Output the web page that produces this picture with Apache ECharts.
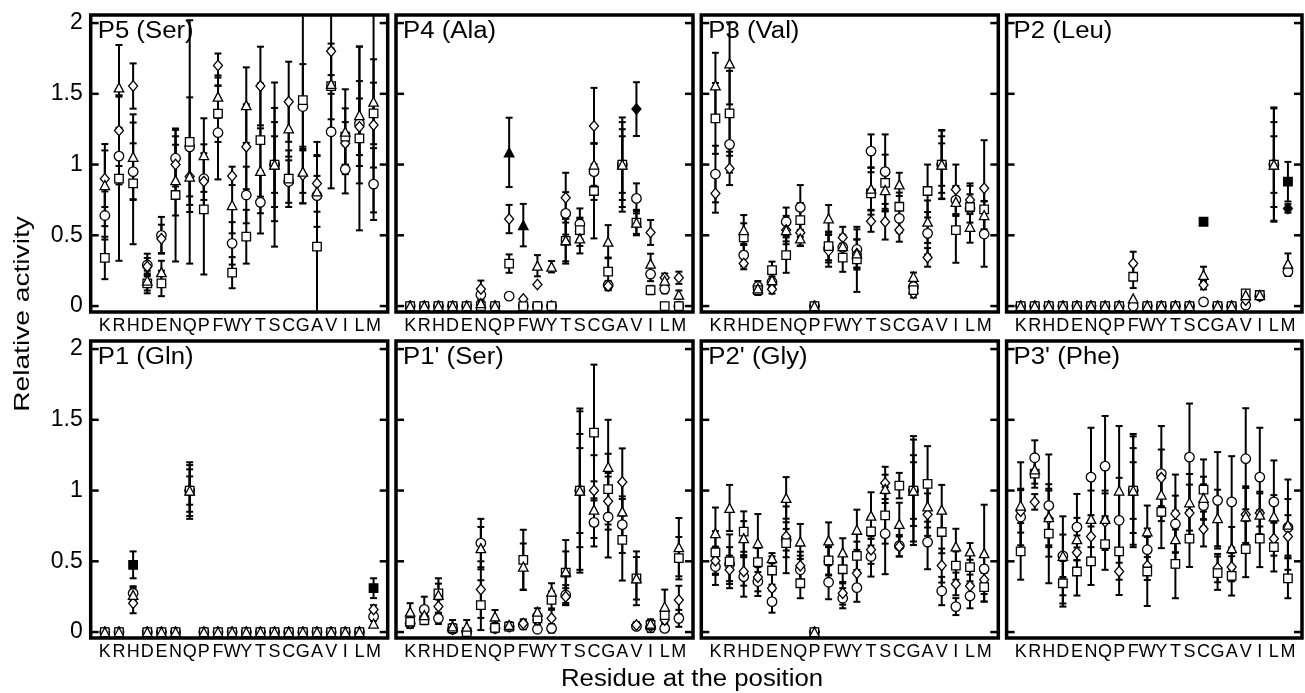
<!DOCTYPE html>
<html>
<head>
<meta charset="utf-8">
<script src="https://cdn.jsdelivr.net/npm/echarts/dist/echarts.min.js"></script>
<style>
  body { margin: 0; background: #fff; }
  #main { width: 1305px; height: 693px; }
</style>
</head>
<body>
<div id="main"></div>
<script>
// residues on the x axis of every panel
const residues = ['K','R','H','D','E','N','Q','P','F','W','Y','T','S','C','G','A','V','I','L','M'];
const panels = ['P5 (Ser)', 'P4 (Ala)', 'P3 (Val)', 'P2 (Leu)', 'P1 (Gln)', "P1' (Ser)", "P2' (Gly)", "P3' (Phe)"];
const yTicks = [0, 0.5, 1, 1.5, 2];

// one row per panel, 20 residues each
const circle = [
  [.64,1.06,.95,.29,.50,1.045,1.125,.90,1.225,.443,.785,.733,1,.88,1.41,.78,1.232,.966,1.29,.862],
  [0,0,0,0,0,.08,0,.07,0,0,0,.655,.58,.95,.148,1,.761,.226,.12,0],
  [.933,1.143,.36,.137,.17,.596,.697,0,.408,.415,.40,1.095,.95,.62,.137,.514,1,.749,.69,.509],
  [0,0,0,0,0,0,0,0,0,0,0,0,0,.03,0,0,.007,.07,1,.243],
  [0,0,.274,0,0,0,1,0,0,0,0,0,0,0,0,0,0,0,0,.11],
  [.061,.16,.097,.02,0,.629,.026,.038,.05,.02,.026,.262,1,.775,.813,.759,.04,.03,.026,.097],
  [.463,.48,.392,.357,.215,.652,.44,0,.352,.239,.314,.534,.695,.61,1,.636,.29,.18,.255,.447],
  [.813,1.232,.894,.539,.742,1.095,1.173,.79,1,.582,1.12,.764,1.236,.894,.931,.92,1.225,1.095,.92,.74]
];
const circleErr = [
  [.17,.2,.2,.08,.13,.2,.35,.15,.33,.15,.2,.22,.58,.15,.3,.38,.4,.17,.3,.254],
  [0,0,0,0,0,.04,0,0,0,0,0,.15,.11,.2,.03,.333,.106,.05,.03,0],
  [.2,.2,.08,.04,.04,.1,.158,0,.1,.08,.142,.118,.263,.1,.03,.15,.244,.1,.1,.231],
  [0,0,0,0,0,0,0,0,0,0,0,0,0,0,0,0,.01,.01,.404,.03],
  [0,0,.05,0,0,0,.18,0,0,0,0,0,0,0,0,0,0,0,0,.03],
  [.03,.09,.04,.02,0,.171,.02,.02,.03,.02,.03,.07,.3,.17,.286,.2,.02,.03,.02,.06],
  [.13,.12,.142,.102,.078,.236,.1,0,.12,.071,.1,.142,.286,.076,.36,.192,.1,.06,.087,.1],
  [.2,.123,.361,.279,.234,.349,.354,.3,.4,.15,.336,.2,.379,.15,.341,.323,.357,.349,.293,.2]
];
const square = [
  [.34,.90,.867,.16,.16,.785,1.16,.683,1.36,.236,.49,1.173,1,.90,1.456,.42,1.555,1.197,1.185,1.362],
  [0,0,0,0,0,0,0,.30,0,0,0,.46,.537,.813,.243,1,.59,.113,0,0],
  [1.326,1.362,.485,.113,.254,.36,.608,0,.424,.342,.33,.796,.87,.702,.113,.813,1,.537,.70,.683],
  [0,0,0,0,0,0,0,0,.207,0,0,0,0,.596,0,0,.09,.078,1,.879],
  [0,0,.475,0,0,0,1,0,0,0,0,0,0,0,0,0,0,0,0,.31],
  [.073,.085,.274,.026,0,.19,.03,.038,.51,.097,.227,.42,1,1.41,1.01,.652,.38,.05,.12,.522],
  [.563,.50,.71,.494,.435,.629,.345,0,.506,.444,.539,.712,.825,1.035,1,1.047,.707,.47,.459,.317],
  [.57,1.12,.695,.345,.428,.499,.622,.57,1,.428,.849,.482,.66,1.007,.416,.397,.586,.66,.60,.38]
];
const squareErr = [
  [.15,.58,.43,.07,.09,.47,.86,.46,.2,.11,.19,.4,.3,.2,.73,.5,.3,.2,.65,.7],
  [0,0,0,0,0,0,0,.065,0,0,0,.16,.08,.335,.1,.2,.09,.03,0,0],
  [.25,.3,.1,.035,.06,.125,.12,0,.1,.1,.23,.15,.2,.1,.03,.187,.2,.231,.167,.15],
  [0,0,0,0,0,0,0,0,.08,0,0,0,0,0,0,0,.02,.01,.397,.14],
  [0,0,.095,0,0,0,.15,0,0,0,0,0,0,0,0,0,0,0,0,.07],
  [.04,.03,.106,.03,0,.176,.02,0,.213,.04,.06,.15,.58,.48,.25,.288,.19,.03,.05,.15],
  [.15,.19,.143,.1,.1,.1,.106,0,.1,.1,.1,.1,.2,.09,.385,.267,.15,.1,.1,.102],
  [.2,.1,.35,.165,.17,.166,.182,.2,.383,.244,.256,.243,.2,.213,.118,.139,.198,.201,.172,.141]
];
const diamond = [
  [.90,1.24,1.555,.28,.475,1.0,.915,.88,1.70,.92,1.126,1.555,1,1.444,.926,.867,1.80,1.15,1.267,1.279],
  [0,0,0,0,0,.12,0,.615,.05,.153,0,.766,.525,1.272,.141,1,1.392,.52,.2,.2],
  [.796,.973,.30,.113,.118,.537,.518,0,.39,.485,.37,.60,.596,.537,.09,.344,1,.824,.75,.832],
  [0,0,0,0,0,0,0,0,.30,0,0,0,0,.148,0,0,.042,.07,1,.69],
  [0,0,.203,0,0,0,1,0,0,0,0,0,0,0,0,0,0,0,0,.16],
  [.061,.097,.18,.02,.01,.30,.026,.038,.06,.085,.097,.25,1,1.0,.924,1.06,.05,.04,.085,.227],
  [.504,.44,.428,.388,.31,.676,.468,0,.50,.274,.416,.582,1.054,.605,1,.83,.47,.34,.326,.369],
  [.853,.92,.80,.352,.563,.676,.78,.428,1,.468,1.09,.837,.842,.728,.452,.459,.83,.842,.66,.676]
];
const diamondErr = [
  [.2,.25,.16,.06,.1,.2,.25,.2,.085,.065,.3,.278,.4,.283,.2,.2,.3,.15,.2,.3],
  [0,0,0,0,0,.06,0,.1,0,0,0,.176,.1,.27,.03,.25,.19,.088,.03,.043],
  [.136,.118,.04,.03,.03,.1,.09,0,.112,.075,.1,.075,.126,.082,.03,.066,.24,.176,.1,.34],
  [0,0,0,0,0,0,0,0,.084,0,0,0,0,.03,0,0,.02,.01,.2,.03],
  [0,0,.07,0,0,0,.2,0,0,0,0,0,0,0,0,0,0,0,0,.03],
  [.03,.03,.05,.02,0,.2,.02,0,.03,.04,.06,.06,.56,.25,.2,.238,.02,.02,.04,.1],
  [.1,.1,.1,.1,.1,.1,.1,0,.1,.08,.1,.1,.114,.07,.25,.15,.12,.08,.08,.1],
  [.15,.055,.2,.15,.12,.15,.2,.166,.3,.1,.2,.276,.2,.123,.1,.1,.2,.15,.12,.15]
];
const triangle = [
  [.855,1.545,1.055,.18,.24,.89,.915,1.067,1.48,.714,1.42,.956,1,1.256,.95,.81,1.57,1.232,1.35,1.444],
  [0,0,0,0,0,.02,0,1.086,.572,.285,.278,.466,.478,1.0,.455,1,.59,.30,.18,.08],
  [1.56,1.715,.537,.125,.184,.537,.478,0,.62,.424,.372,.83,.82,.86,.207,.596,1,.737,.56,.643],
  [0,0,0,0,0,0,0,0,.054,0,0,0,0,.22,0,0,.078,.078,1,.30],
  [0,0,.262,0,0,0,1,0,0,0,0,0,0,0,0,0,0,0,0,.06],
  [.144,.12,.262,.04,.038,.593,.11,.05,.463,.144,.286,.428,1,.865,1.168,.853,.38,.06,.18,.60],
  [.70,.877,.664,.629,.522,.948,.64,0,.648,.563,.723,.823,1.012,.764,1,.889,.865,.605,.57,.558],
  [.894,1.149,.813,.539,.657,.80,.80,1.0,1,.712,.972,.657,.917,.948,.806,.593,.818,.83,.818,.759]
];
const triangleErr = [
  [.29,.3,.3,.07,.08,.25,.2,.26,.15,.2,.267,.3,.2,.2,.15,.25,.25,.3,.483,.3],
  [0,0,0,0,0,.02,0,.245,.15,.075,.04,.15,.106,.15,.117,.3,.08,.07,.03,.03],
  [.23,.29,.106,.03,.05,.08,.054,0,.094,.08,.1,.15,.15,.082,.03,.15,.15,.1,.112,.1],
  [0,0,0,0,0,0,0,0,0,0,0,0,0,.058,0,0,.02,.01,.3,.072],
  [0,0,.05,0,0,0,.1,0,0,0,0,0,0,0,0,0,0,0,0,.02],
  [.06,.05,.08,.045,.047,.15,.046,.02,.163,.024,.059,.222,.4,.2,.332,.2,.15,.03,.12,.206],
  [.18,.163,.12,.205,.036,.147,.124,0,.127,.1,.142,.165,.1,.15,.2,.15,.175,.125,.059,.342],
  [.306,.1,.2,.15,.15,.2,.2,.456,.2,.182,.15,.2,.2,.15,.2,.15,.2,.15,.15,.319]
];
// solid (black) markers: [panel, series, residue index]
const filled = [[1,'triangle',7],[1,'triangle',8],[1,'diamond',16],[3,'square',13],[3,'square',19],[3,'diamond',19],[4,'square',2],[4,'square',19]];

const FONT = "'Liberation Sans', Arial, Helvetica, sans-serif";
const chart = echarts.init(document.getElementById('main'));

const markers = [
  { name: 'circle', symbol: 'circle', size: 9.5, vals: circle, errs: circleErr },
  { name: 'diamond', symbol: 'diamond', size: [9, 10.5], vals: diamond, errs: diamondErr },
  { name: 'square', symbol: 'rect', size: 8.5, vals: square, errs: squareErr },
  { name: 'triangle', symbol: 'triangle', size: [9.5, 9], vals: triangle, errs: triangleErr }
];

// vertical error bar with caps, cut at the panel frame
function renderErr(params, api) {
  const x = api.value(0), lo = api.value(1), hi = api.value(2);
  const cs = params.coordSys;
  const top = api.coord([x, hi]);
  const bot = api.coord([x, lo]);
  const yMin = cs.y, yMax = cs.y + cs.height;
  const px = top[0];
  const st = { stroke: '#000', lineWidth: 2 };
  const kids = [{ type: 'line', shape: { x1: px, y1: Math.max(top[1], yMin), x2: px, y2: Math.min(bot[1], yMax) }, style: st }];
  if (top[1] >= yMin) kids.push({ type: 'line', shape: { x1: px - 3.5, y1: top[1], x2: px + 3.5, y2: top[1] }, style: st });
  if (bot[1] <= yMax) kids.push({ type: 'line', shape: { x1: px - 3.5, y1: bot[1], x2: px + 3.5, y2: bot[1] }, style: st });
  return { type: 'group', children: kids };
}

// inward tick marks on both sides of a panel, placed by the y scale
function renderTick(params, api) {
  const cs = params.coordSys;
  const y = api.coord([api.value(0), api.value(1)])[1];
  const st = { stroke: '#000', lineWidth: 2.5 };
  return { type: 'group', children: [
    { type: 'line', shape: { x1: cs.x, y1: y, x2: cs.x + 8, y2: y }, style: st },
    { type: 'line', shape: { x1: cs.x + cs.width - 8, y1: y, x2: cs.x + cs.width, y2: y }, style: st }
  ] };
}

const grids = [], xAxes = [], yAxes = [], series = [], graphics = [];
panels.forEach((title, p) => {
  const col = p % 4, row = Math.floor(p / 4);
  const left = 90.7 + 305.3 * col;
  const top = row === 0 ? 15 : 341;
  grids.push({ left: left, top: top, width: 297, height: 297, show: true, borderColor: '#000', borderWidth: 3.5 });
  xAxes.push({
    gridIndex: p, type: 'value', min: -1, max: 20, interval: 1,
    axisLine: { show: false, onZero: false }, axisTick: { show: false }, splitLine: { show: false },
    axisLabel: { margin: 5, fontSize: 18, color: '#000', fontFamily: FONT,
      formatter: v => residues[v] || '' }
  });
  yAxes.push({
    gridIndex: p, type: 'value', min: -0.042, max: 2.057, splitNumber: 4, minInterval: 0.5, maxInterval: 0.5,
    axisLine: { show: false, onZero: false }, splitLine: { show: false }, axisTick: { show: false },
    axisLabel: { show: col === 0, margin: 8, fontSize: 23, color: '#000', fontFamily: FONT,
      showMinLabel: false, showMaxLabel: false,
      formatter: v => yTicks.indexOf(v) >= 0 ? String(v) : '' }
  });

  series.push({ type: 'custom', xAxisIndex: p, yAxisIndex: p, renderItem: renderTick,
    data: yTicks.map(v => [-1, v]), silent: true, z: 4 });

  // error bars for all four series
  const errData = [];
  markers.forEach(m => {
    m.vals[p].forEach((v, i) => {
      const e = m.errs[p][i];
      if (e > 0) errData.push([i, v - e, v + e]);
    });
  });
  series.push({ type: 'custom', xAxisIndex: p, yAxisIndex: p, renderItem: renderErr, data: errData, silent: true, z: 2 });

  markers.forEach(m => {
    const data = m.vals[p].map((v, i) => {
      const solid = filled.some(f => f[0] === p && f[1] === m.name && f[2] === i);
      return solid ? { value: [i, v], itemStyle: { color: '#000' } } : [i, v];
    });
    series.push({
      type: 'scatter', xAxisIndex: p, yAxisIndex: p, symbol: m.symbol, symbolSize: m.size,
      itemStyle: { color: '#fff', borderColor: '#000', borderWidth: 1.3, opacity: 1 },
      data: data, silent: true, z: 3
    });
  });

  graphics.push({
    type: 'text', x: left + 7, y: top + 5, scaleX: 1.12, z: 10,
    style: { text: title, fontSize: 23, fontFamily: FONT, fill: '#000', align: 'left', verticalAlign: 'top' }
  });
});

graphics.push({
  type: 'text', x: 23, y: 314, rotation: Math.PI / 2, scaleX: 1.28,
  style: { text: 'Relative activity', fontSize: 22, fontFamily: FONT, fill: '#000', align: 'center', verticalAlign: 'middle' }
});
graphics.push({
  type: 'text', x: 692, y: 680, scaleX: 1.12,
  style: { text: 'Residue at the position', fontSize: 23, fontFamily: FONT, fill: '#000', align: 'center', verticalAlign: 'middle' }
});

chart.setOption({
  animation: false,
  backgroundColor: '#fff',
  grid: grids,
  xAxis: xAxes,
  yAxis: yAxes,
  series: series,
  graphic: graphics
});
window.onresize = chart.resize;
</script>
</body>
</html>
